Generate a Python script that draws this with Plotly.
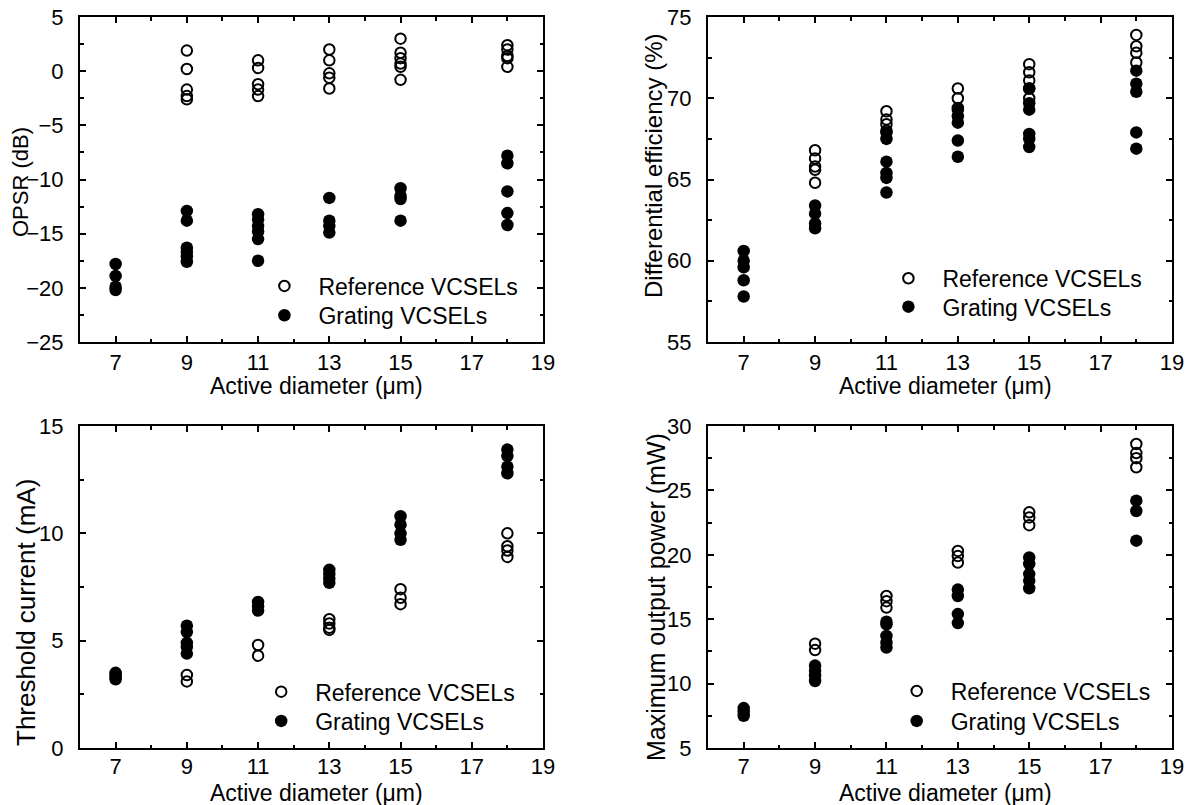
import plotly.graph_objects as go

# ---------------- data ----------------
# OPSR (dB)
opsr_ref_x = [9]*5 + [11]*5 + [13]*5 + [15]*6 + [18]*5
opsr_ref_y = [1.9, 0.2, -1.7, -2.3, -2.6,
              1.0, 0.3, -1.2, -1.7, -2.3,
              2.0, 1.0, -0.2, -0.6, -1.6,
              3.0, 1.7, 1.2, 0.7, 0.4, -0.8,
              2.4, 2.0, 1.4, 1.2, 0.4]
opsr_gr_x = [7]*4 + [9]*6 + [11]*6 + [13]*4 + [15]*4 + [18]*5
opsr_gr_y = [-17.8, -18.9, -19.9, -20.2,
             -12.9, -13.8, -16.3, -16.7, -17.1, -17.6,
             -13.2, -13.7, -14.3, -14.8, -15.5, -17.5,
             -11.7, -13.8, -14.3, -14.9,
             -10.8, -11.5, -11.8, -13.8,
             -7.8, -8.5, -11.1, -13.1, -14.2]

# Differential efficiency (%)
de_ref_x = [9]*5 + [11]*4 + [13]*3 + [15]*5 + [18]*4
de_ref_y = [66.8, 66.3, 65.8, 65.6, 64.8,
            69.2, 68.7, 68.4, 68.0,
            70.6, 70.0, 69.4,
            72.1, 71.6, 71.1, 70.6, 70.0,
            73.9, 73.2, 72.8, 72.2]
de_gr_x = [7]*5 + [9]*4 + [11]*6 + [13]*5 + [15]*6 + [18]*5
de_gr_y = [60.6, 60.0, 59.6, 58.8, 57.8,
           63.4, 62.9, 62.3, 62.0,
           67.9, 67.5, 66.1, 65.4, 65.1, 64.2,
           69.3, 68.9, 68.5, 67.4, 66.4,
           70.6, 69.7, 69.3, 67.8, 67.5, 67.0,
           71.7, 70.9, 70.4, 67.9, 66.9]

# Threshold current (mA)
ith_ref_x = [9]*2 + [11]*2 + [13]*4 + [15]*3 + [18]*4
ith_ref_y = [3.4, 3.1,
             4.8, 4.3,
             6.0, 5.8, 5.6, 5.5,
             7.4, 7.0, 6.7,
             10.0, 9.4, 9.2, 8.9]
ith_gr_x = [7]*4 + [9]*5 + [11]*3 + [13]*4 + [15]*4 + [18]*4
ith_gr_y = [3.5, 3.4, 3.3, 3.2,
            5.7, 5.4, 4.9, 4.7, 4.4,
            6.8, 6.6, 6.4,
            8.3, 8.1, 7.9, 7.7,
            10.8, 10.4, 10.0, 9.7,
            13.9, 13.6, 13.1, 12.8]

# Maximum output power (mW)
pmax_ref_x = [9]*2 + [11]*3 + [13]*3 + [15]*3 + [18]*4
pmax_ref_y = [13.1, 12.6,
              16.8, 16.4, 15.9,
              20.3, 19.9, 19.4,
              23.3, 22.9, 22.3,
              28.6, 27.9, 27.5, 26.8]
pmax_gr_x = [7]*3 + [9]*4 + [11]*5 + [13]*4 + [15]*5 + [18]*3
pmax_gr_y = [8.1, 7.8, 7.5,
             11.4, 11.0, 10.6, 10.2,
             14.8, 14.6, 13.7, 13.2, 12.8,
             17.3, 16.8, 15.4, 14.7,
             19.8, 19.3, 18.5, 18.0, 17.4,
             24.2, 23.4, 21.1]

x_ticks = [7, 9, 11, 13, 15, 17, 19]
x_title = "Active diameter (μm)"
y_titles = ["OPSR (dB)", "Differential efficiency (%)",
            "Threshold current (mA)", "Maximum output power (mW)"]
y_ranges = [[-25, 5], [55, 75], [0, 15], [5, 30]]
ref_name = "Reference VCSELs"
gr_name = "Grating VCSELs"

# ---------------- figure ----------------
FONT = "Arial, 'Liberation Sans', sans-serif"
W, H = 1187, 805

fig = go.Figure()

panels = [
    (opsr_ref_x, opsr_ref_y, opsr_gr_x, opsr_gr_y),
    (de_ref_x, de_ref_y, de_gr_x, de_gr_y),
    (ith_ref_x, ith_ref_y, ith_gr_x, ith_gr_y),
    (pmax_ref_x, pmax_ref_y, pmax_gr_x, pmax_gr_y),
]

for i, (rx, ry, gx, gy) in enumerate(panels):
    xa = "x" if i == 0 else f"x{i+1}"
    ya = "y" if i == 0 else f"y{i+1}"
    lg_r = "legend" if i == 0 else f"legend{2*i+1}"
    lg_g = f"legend{2*i+2}"
    fig.add_trace(go.Scatter(
        x=rx, y=ry, mode="markers", name=ref_name,
        xaxis=xa, yaxis=ya, legend=lg_r, showlegend=True,
        marker=dict(symbol="circle-open", size=10.5, color="black",
                    line=dict(width=2, color="black")),
    ))
    fig.add_trace(go.Scatter(
        x=gx, y=gy, mode="markers", name=gr_name,
        xaxis=xa, yaxis=ya, legend=lg_g, showlegend=True,
        marker=dict(symbol="circle", size=12.5, color="black",
                    line=dict(width=0)),
    ))

# domains in pixels -> paper
colx = [(80, 543), (708, 1172)]
rowy = [(17, 342), (426, 748)]


def px_dom_x(a, b):
    return [a / W, b / W]


def px_dom_y(top, bottom):
    return [1 - bottom / H, 1 - top / H]


axis_common = dict(
    showline=True, linecolor="black", linewidth=2, mirror="allticks",
    ticks="inside", ticklen=6, tickwidth=1.5, tickcolor="black",
    showgrid=False, zeroline=False, automargin=False,
    tickfont=dict(family=FONT, size=22, color="black"),
)

layout = {}
for i in range(4):
    r, c = divmod(i, 2)
    sfx = "" if i == 0 else str(i + 1)
    layout[f"xaxis{sfx}"] = dict(
        axis_common,
        domain=px_dom_x(*colx[c]), anchor=f"y{sfx}",
        range=[6, 19], tickmode="array", tickvals=x_ticks,
        minor=dict(tickmode="linear", tick0=6, dtick=2, ticks="inside",
                   ticklen=3.5, tickwidth=1.5, tickcolor="black"),
        ticklabelstandoff=0 if r == 0 else -2,
    )
    lo, hi = y_ranges[i]
    layout[f"yaxis{sfx}"] = dict(
        axis_common,
        domain=px_dom_y(*rowy[r]), anchor=f"x{sfx}",
        range=[lo, hi], tick0=lo, dtick=5,
        minor=dict(tickmode="linear", tick0=lo, dtick=2.5, ticks="inside",
                   ticklen=3.5, tickwidth=1.5, tickcolor="black"),
        ticklabelstandoff=10,
    )

# one legend per entry: (left px, centre y px)
legend_specs = [(250.4, 286.0), (250.4, 315.3),
                (874.4, 278.3), (874.4, 306.7),
                (247.2, 691.7), (247.2, 721.0),
                (882.7, 691.0), (882.7, 721.0)]
for k, (lx, ly) in enumerate(legend_specs):
    lid = "legend" if k == 0 else f"legend{k+1}"
    layout[lid] = dict(
        x=lx / W, y=1 - ly / H, xanchor="left", yanchor="middle",
        bgcolor="rgba(0,0,0,0)", borderwidth=0,
        font=dict(family=FONT, size=23, color="black"),
        itemwidth=58, tracegroupgap=0,
    )

# axis titles as annotations (pixel placement)
annotations = []
xt_pos = [(316, 386), (945, 386), (316, 793), (945, 793)]
for (cx, cy) in xt_pos:
    annotations.append(dict(
        text=x_title, xref="paper", yref="paper",
        x=cx / W, y=1 - cy / H, xanchor="center", yanchor="middle",
        showarrow=False, font=dict(family=FONT, size=23, color="black"),
    ))
yt_specs = [(20, 182, 22), (654, 166, 24), (26, 613, 26), (656, 597, 25)]
for i, (cx, cy, fs) in enumerate(yt_specs):
    annotations.append(dict(
        text=y_titles[i], xref="paper", yref="paper",
        x=cx / W, y=1 - cy / H, xanchor="center", yanchor="middle",
        textangle=-90, showarrow=False,
        font=dict(family=FONT, size=fs, color="black"),
    ))

fig.update_layout(
    **layout,
    annotations=annotations,
    showlegend=True,
    width=W, height=H,
    margin=dict(l=0, r=0, t=0, b=0, pad=0, autoexpand=False),
    paper_bgcolor="white", plot_bgcolor="white",
    font=dict(family=FONT, size=22, color="black"),
)

fig.write_html("out.html")
